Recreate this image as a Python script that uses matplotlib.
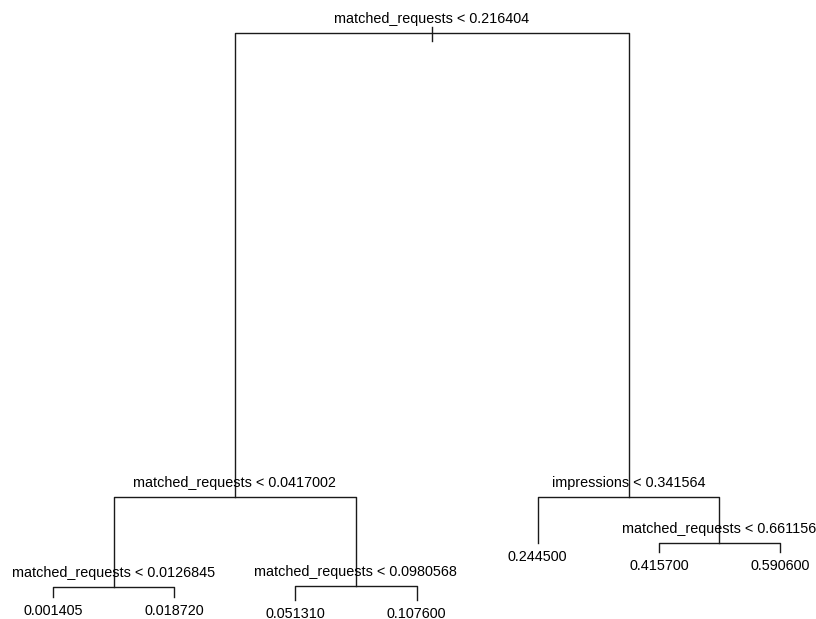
import matplotlib
matplotlib.use("Agg")
import matplotlib.pyplot as plt

plt.rcParams["font.family"] = ["Liberation Sans", "DejaVu Sans"]

# regression tree: node id -> (split label or leaf value, deviance-height)
# children of node i are 2i and 2i+1 (R tree numbering)
split_labels = {
    1: "matched_requests < 0.216404",
    2: "matched_requests < 0.0417002",
    3: "impressions < 0.341564",
    4: "matched_requests < 0.0126845",
    5: "matched_requests < 0.0980568",
    7: "matched_requests < 0.661156",
}
leaf_ids = [8, 9, 10, 11, 6, 14, 15]
leaf_values = ["0.001405", "0.018720", "0.051310", "0.107600", "0.244500", "0.415700", "0.590600"]
node_ids = [1, 2, 3, 4, 5, 6, 7, 8, 9, 10, 11, 14, 15]
node_dev = [56.7, 10.3, 10.3, 1.3, 1.4, 5.7, 5.7, 0.3, 0.3, 0.0, 0.0, 4.8, 4.8]

dev = dict(zip(node_ids, node_dev))

# leaves evenly spaced, internal nodes at midpoint of their children
xpos = {}
for i, n in enumerate(leaf_ids):
    xpos[n] = i + 1


def place(n):
    if n in xpos:
        return xpos[n]
    xpos[n] = (place(2 * n) + place(2 * n + 1)) / 2
    return xpos[n]


place(1)

fig = plt.figure(figsize=(8.16, 6.19), dpi=100)
ax = fig.add_axes([0, 0, 1, 1])
ax.set_xlim(0.5626, 7.297)
ax.set_ylim(-1.9, 60.0)
ax.axis("off")

lc = "#1a1a1a"
lw = 1.0

# small stub at the root
ax.plot([xpos[1], xpos[1]], [dev[1] + 0.6, dev[1] - 0.8], color=lc, lw=lw)

for n, label in split_labels.items():
    l, r = 2 * n, 2 * n + 1
    y = dev[n]
    ax.plot([xpos[l], xpos[l], xpos[r], xpos[r]], [dev[l], y, y, dev[r]], color=lc, lw=lw)
    ax.annotate(label, (xpos[n], y), xytext=(0, 10.3), textcoords="offset points",
                ha="center", va="center", fontsize=10.4)

for n, val in zip(leaf_ids, leaf_values):
    ax.annotate(val, (xpos[n], dev[n]), xytext=(0, -10.3), textcoords="offset points",
                ha="center", va="center", fontsize=10.4)

fig.savefig("out.png", dpi=100)
